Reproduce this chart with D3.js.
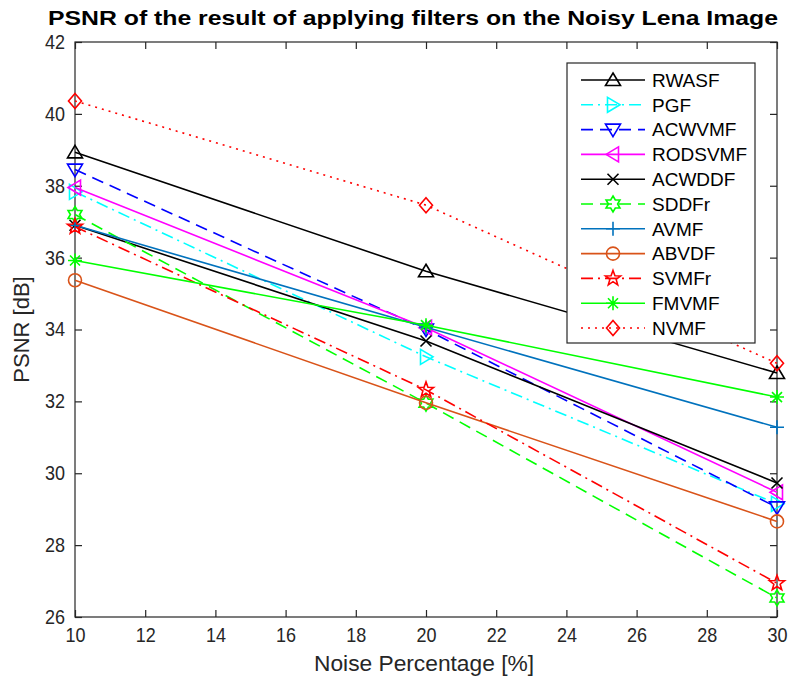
<!DOCTYPE html>
<html>
<head>
<meta charset="utf-8">
<script src="https://cdn.jsdelivr.net/npm/d3@7/dist/d3.min.js"></script>
<style>
html,body{margin:0;padding:0;background:#fff;}
svg{display:block;font-family:"Liberation Sans",Arial,Helvetica,sans-serif;}
</style>
</head>
<body>
<svg id="chart" width="790" height="684"></svg>
<script>
// ---- data ----
const noise = [10, 20, 30];
const seriesNames = ["RWASF","PGF","ACWVMF","RODSVMF","ACWDDF","SDDFr","AVMF","ABVDF","SVMFr","FMVMF","NVMF"];
const RWASF   = [38.93, 35.62, 32.79];
const PGF     = [37.83, 33.24, 29.15];
const ACWVMF  = [38.45, 34.00, 29.05];
const RODSVMF = [37.95, 34.05, 29.47];
const ACWDDF  = [36.90, 33.68, 29.73];
const SDDFr   = [37.20, 31.95, 26.53];
const AVMF    = [36.90, 34.06, 31.28];
const ABVDF   = [35.37, 31.96, 28.66];
const SVMFr   = [36.86, 32.32, 26.94];
const FMVMF   = [35.92, 34.12, 32.12];
const NVMF    = [40.36, 37.46, 33.06];
const xTicks = [10,12,14,16,18,20,22,24,26,28,30];
const yTicks = [26,28,30,32,34,36,38,40,42];
const title = "PSNR of the result of applying filters on the Noisy Lena Image";
const xLabel = "Noise Percentage [%]";
const yLabel = "PSNR [dB]";

const values = [RWASF,PGF,ACWVMF,RODSVMF,ACWDDF,SDDFr,AVMF,ABVDF,SVMFr,FMVMF,NVMF];
const styles = [
  {color:"#000000", dash:null,        marker:"tu"},
  {color:"#00FFFF", dash:"12,5,2,5",  marker:"tr"},
  {color:"#0000FF", dash:"12,7",      marker:"td"},
  {color:"#FF00FF", dash:null,        marker:"tl"},
  {color:"#000000", dash:null,        marker:"x"},
  {color:"#00FF00", dash:"12,7",      marker:"hex"},
  {color:"#0072BD", dash:null,        marker:"plus"},
  {color:"#D95319", dash:null,        marker:"circle"},
  {color:"#FF0000", dash:"12,5,2,5",  marker:"pent"},
  {color:"#00FF00", dash:null,        marker:"star"},
  {color:"#FF0000", dash:"2,5",       marker:"diamond"}
];

const svg = d3.select("#chart");
const X0 = 75, X1 = 777, Y0 = 617, Y1 = 42;
const x = d3.scaleLinear().domain([10,30]).range([X0,X1]);
const y = d3.scaleLinear().domain([26,42]).range([Y0,Y1]);
const axisColor = "#262626";

// marker path generator
function markerPath(type){
  const p = d3.path();
  const star = (n, R, r, rot) => {
    for(let i=0;i<2*n;i++){
      const a = rot + i*Math.PI/n;
      const rr = i%2===0 ? R : r;
      const px = rr*Math.sin(a), py = -rr*Math.cos(a);
      if(i===0) p.moveTo(px,py); else p.lineTo(px,py);
    }
    p.closePath();
  };
  switch(type){
    case "tu": p.moveTo(0,-7); p.lineTo(7.5,5.5); p.lineTo(-7.5,5.5); p.closePath(); break;
    case "td": p.moveTo(0,7); p.lineTo(7.5,-5.5); p.lineTo(-7.5,-5.5); p.closePath(); break;
    case "tr": p.moveTo(7,0); p.lineTo(-5.5,7.5); p.lineTo(-5.5,-7.5); p.closePath(); break;
    case "tl": p.moveTo(-7,0); p.lineTo(5.5,7.5); p.lineTo(5.5,-7.5); p.closePath(); break;
    case "x": p.moveTo(-5.5,-5.5); p.lineTo(5.5,5.5); p.moveTo(5.5,-5.5); p.lineTo(-5.5,5.5); break;
    case "plus": p.moveTo(-7,0); p.lineTo(7,0); p.moveTo(0,-7); p.lineTo(0,7); break;
    case "star": p.moveTo(-7,0); p.lineTo(7,0); p.moveTo(0,-7); p.lineTo(0,7);
                 p.moveTo(-5,-5); p.lineTo(5,5); p.moveTo(5,-5); p.lineTo(-5,5); break;
    case "diamond": p.moveTo(0,-7.5); p.lineTo(6.5,0); p.lineTo(0,7.5); p.lineTo(-6.5,0); p.closePath(); break;
    case "circle": p.arc(0,0,6.5,0,2*Math.PI); p.closePath(); break;
    case "pent": star(5, 8, 3.3, 0); break;
    case "hex": star(6, 8, 4.6, 0); break;
  }
  return p.toString();
}

// axes frame with inward ticks
const g = svg.append("g");
const tickLen = 7;
g.append("rect").attr("x",X0).attr("y",Y1).attr("width",X1-X0).attr("height",Y0-Y1)
  .attr("fill","none").attr("stroke",axisColor).attr("stroke-width",1.2);

const xAxisB = d3.axisBottom(x).tickValues(xTicks).tickSize(-tickLen).tickPadding(11).tickFormat(d3.format("d"));
const xAxisT = d3.axisTop(x).tickValues(xTicks).tickSize(-tickLen).tickFormat("");
const yAxisL = d3.axisLeft(y).tickValues(yTicks).tickSize(-tickLen).tickPadding(11).tickFormat(d3.format("d"));
const yAxisR = d3.axisRight(y).tickValues(yTicks).tickSize(-tickLen).tickFormat("");

function styleAxis(sel){
  sel.select(".domain").remove();
  sel.selectAll(".tick line").attr("stroke",axisColor).attr("stroke-width",1.2);
  sel.selectAll(".tick text").attr("fill","#262626").style("font-size","20px")
     .style("font-family","'Liberation Sans',Arial,sans-serif")
     .attr("transform","scale(0.9,1)");
}
g.append("g").attr("transform",`translate(0,${Y0})`).call(xAxisB).call(styleAxis);
g.append("g").attr("transform",`translate(0,${Y1})`).call(xAxisT).call(styleAxis);
g.append("g").attr("transform",`translate(${X0},0)`).call(yAxisL).call(styleAxis);
g.append("g").attr("transform",`translate(${X1},0)`).call(yAxisR).call(styleAxis);

// series
const plot = svg.append("g");
const line = d3.line().x((d,i)=>x(noise[i])).y(d=>y(d));
values.forEach((vals,si)=>{
  const st = styles[si];
  const sg = plot.append("g");
  sg.append("path").attr("d",line(vals)).attr("fill","none")
    .attr("stroke",st.color).attr("stroke-width",1.6)
    .attr("stroke-dasharray",st.dash);
  sg.selectAll("path.m").data(vals).enter().append("path").attr("class","m")
    .attr("d",markerPath(st.marker))
    .attr("transform",(d,i)=>`translate(${x(noise[i])},${y(d)})`)
    .attr("fill","none").attr("stroke",st.color).attr("stroke-width",1.6);
});

// legend
const LX0 = 567, LX1 = 755, LY0 = 63, LY1 = 343;
const leg = svg.append("g");
leg.append("rect").attr("x",LX0).attr("y",LY0).attr("width",LX1-LX0).attr("height",LY1-LY0)
  .attr("fill","#fff").attr("stroke",axisColor).attr("stroke-width",1.2);
const rowY = d3.scaleLinear().domain([0,seriesNames.length-1]).range([80,328]);
seriesNames.forEach((name,si)=>{
  const st = styles[si];
  const yy = rowY(si);
  leg.append("line").attr("x1",581).attr("x2",645).attr("y1",yy).attr("y2",yy)
    .attr("stroke",st.color).attr("stroke-width",1.6).attr("stroke-dasharray",st.dash);
  leg.append("path").attr("d",markerPath(st.marker)).attr("transform",`translate(613,${yy})`)
    .attr("fill","none").attr("stroke",st.color).attr("stroke-width",1.6);
  leg.append("text").attr("x",652).attr("y",yy).attr("dy","0.36em")
    .style("font-size","19px").attr("fill","#000").text(name);
});

// title and labels
svg.append("text").attr("x",(48+778)/2).attr("y",25).attr("text-anchor","middle")
  .style("font-size","21px").style("font-weight","bold").attr("fill","#000")
  .attr("textLength",730).attr("lengthAdjust","spacingAndGlyphs").text(title);
svg.append("text").attr("x",(X0+X1)/2 - 2).attr("y",671).attr("text-anchor","middle")
  .style("font-size","22px").attr("fill","#262626")
  .attr("textLength",220).attr("lengthAdjust","spacingAndGlyphs").text(xLabel);
svg.append("text").attr("transform",`translate(29,${(Y0+Y1)/2}) rotate(-90)`).attr("text-anchor","middle")
  .style("font-size","22px").attr("fill","#262626").text(yLabel);
</script>
</body>
</html>
